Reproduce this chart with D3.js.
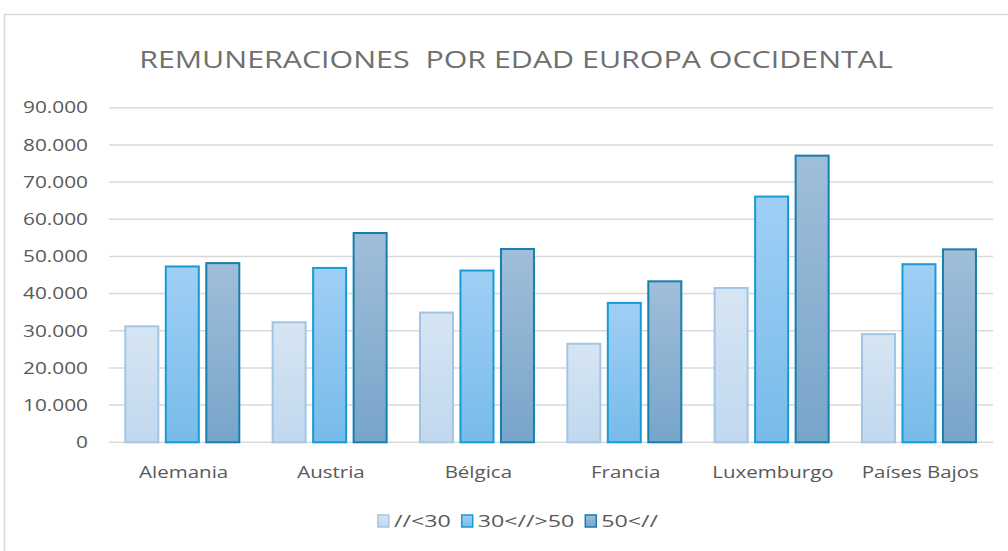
<!DOCTYPE html>
<html>
<head>
<meta charset="utf-8">
<script src="https://cdn.jsdelivr.net/npm/d3@7"></script>
<style>
  body { margin: 0; background: #fff; }
  svg { display: block; font-family: "Open Sans", "Noto Sans", sans-serif; }
</style>
</head>
<body>
<svg id="chart" width="1008" height="551"></svg>
<script>
const categories = ['Alemania', 'Austria', 'Bélgica', 'Francia', 'Luxemburgo', 'Países Bajos'];
const seriesNames = ['//<30', '30<//>50', '50<//'];
const under30 = [31200, 32300, 34900, 26500, 41500, 29100];
const from30to50 = [47300, 46900, 46200, 37500, 66100, 47900];
const over50 = [48200, 56300, 52000, 43300, 77100, 51900];
const yTicks = [0, 10000, 20000, 30000, 40000, 50000, 60000, 70000, 80000, 90000];
const title = 'REMUNERACIONES  POR EDAD EUROPA OCCIDENTAL';

const seriesValues = [under30, from30to50, over50];
const colors = [
  {top: '#d6e5f3', bottom: '#c1d8ee', stroke: '#a3c5e4'},
  {top: '#a0cff5', bottom: '#77bbea', stroke: '#179bd5'},
  {top: '#a0bed9', bottom: '#77a5ca', stroke: '#177eb0'}
];
const stretch = 1.3;   // picture is wider than the font

const svg = d3.select('#chart');
const locale = d3.formatLocale({decimal: ',', thousands: '.', grouping: [3], currency: ['', '€']});
const fmt = locale.format(',d');

// outer frame (bottom/right run off the picture)
svg.append('rect')
  .attr('x', 4.5).attr('y', 14.5).attr('width', 1200).attr('height', 700)
  .attr('fill', 'none').attr('stroke', '#d9d9d9').attr('stroke-width', 1.5);

const defs = svg.append('defs');
colors.forEach((c, i) => {
  const g = defs.append('linearGradient').attr('id', 'grad' + i)
    .attr('x1', 0).attr('y1', 0).attr('x2', 0).attr('y2', 1);
  g.append('stop').attr('offset', '0%').attr('stop-color', c.top);
  g.append('stop').attr('offset', '100%').attr('stop-color', c.bottom);
});

// widen text to match the picture, returns new width of last one
function stretchText(sel, k = stretch) {
  let w = 0;
  sel.each(function() {
    w = this.getComputedTextLength() * k;
    d3.select(this).attr('textLength', w).attr('lengthAdjust', 'spacingAndGlyphs');
  });
  return w;
}

const x0 = d3.scaleBand().domain(categories).range([109, 993]).padding(0);
const x1 = d3.scaleBand().domain(d3.range(3)).range([16.3, 130.3]).paddingInner(0.185);
const y = d3.scaleLinear().domain([0, 90000]).range([442.3, 107.7]);

// grid
svg.append('g').selectAll('line').data(yTicks).join('line')
  .attr('x1', 109).attr('x2', 993)
  .attr('y1', d => y(d)).attr('y2', d => y(d))
  .attr('stroke', '#d9d9d9').attr('stroke-width', 1.5);

// y labels
const yLab = svg.append('g').selectAll('text').data(yTicks).join('text')
  .attr('x', 88).attr('y', d => y(d)).attr('dy', '0.36em')
  .attr('text-anchor', 'end')
  .attr('font-size', 16).attr('fill', '#595959')
  .text(d => fmt(d));
stretchText(yLab);

// bars
const groups = svg.append('g').selectAll('g').data(categories).join('g')
  .attr('transform', d => `translate(${x0(d)},0)`);
groups.selectAll('rect')
  .data((c, ci) => seriesValues.map((vals, si) => ({si, v: vals[ci]})))
  .join('rect')
  .attr('x', d => x1(d.si))
  .attr('width', x1.bandwidth())
  .attr('y', d => y(d.v))
  .attr('height', d => y(0) - y(d.v))
  .attr('fill', d => `url(#grad${d.si})`)
  .attr('stroke', d => colors[d.si].stroke)
  .attr('stroke-width', 2);

// x labels
const xLab = svg.append('g').selectAll('text').data(categories).join('text')
  .attr('x', d => x0(d) + x0.bandwidth() / 2 + 1)
  .attr('y', 478)
  .attr('text-anchor', 'middle')
  .attr('font-size', 16).attr('fill', '#595959')
  .text(d => d);
stretchText(xLab, 1.28);

// title
const t = svg.append('text')
  .attr('x', 516).attr('y', 68)
  .attr('text-anchor', 'middle')
  .attr('font-size', 24.5).attr('fill', '#6f6f6f')
  .style('white-space', 'pre')
  .text(title);
stretchText(t, 1.24);

// legend
const legend = svg.append('g');
let lx = 0;
seriesNames.forEach((name, i) => {
  const item = legend.append('g').attr('transform', `translate(${lx},0)`);
  item.append('rect').attr('x', 0).attr('y', -6).attr('width', 11).attr('height', 12)
    .attr('fill', `url(#grad${i})`).attr('stroke', colors[i].stroke).attr('stroke-width', 1.5);
  const txt = item.append('text').attr('x', 16).attr('y', 0).attr('dy', '0.36em')
    .attr('font-size', 16).attr('fill', '#595959').text(name);
  lx += 16 + stretchText(txt, 1.45) + 11;
});
legend.attr('transform', `translate(${518 - (lx - 11) / 2},521)`);
</script>
</body>
</html>
